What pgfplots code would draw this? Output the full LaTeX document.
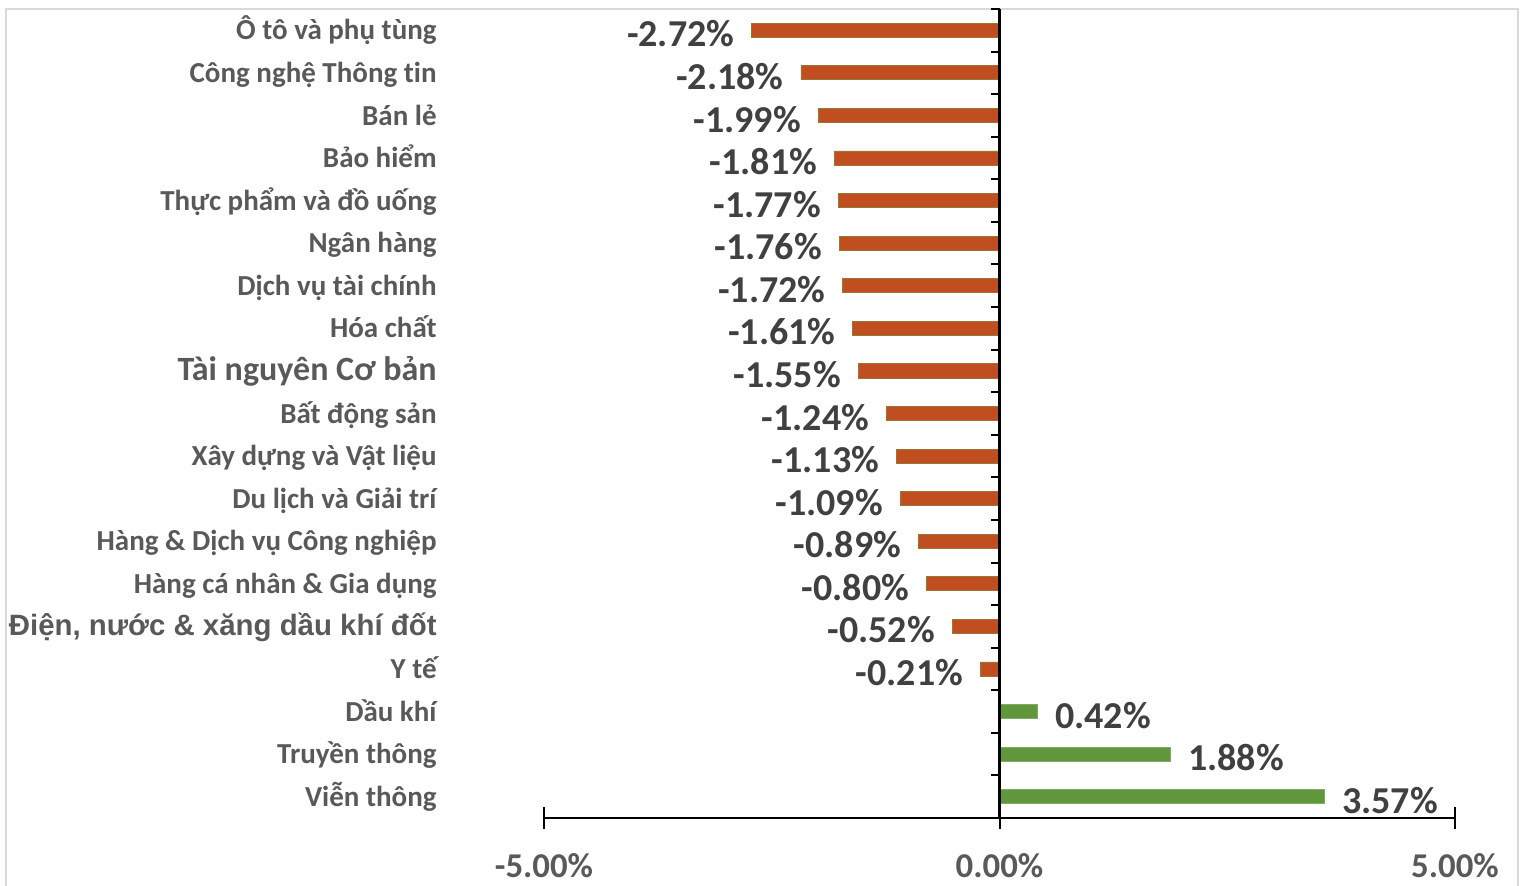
\documentclass[border=0pt]{standalone}
\usepackage{pgfplots}
\pgfplotsset{compat=1.18}
\usepackage{fontspec}
\setmainfont{Carlito}[Ligatures={NoCommon}]
\newfontfamily\arialb{Liberation Sans}
\definecolor{lblgray}{HTML}{595959}
\definecolor{valgray}{HTML}{404040}
\definecolor{negbar}{RGB}{193,78,32}
\definecolor{negedge}{RGB}{150,120,50}
\definecolor{posbar}{RGB}{96,150,60}
\definecolor{frame}{HTML}{D9D9D9}
\begin{document}
\begin{tikzpicture}
\path[use as bounding box] (-272pt,-34pt) rectangle (488pt,409pt);
\draw[frame, line width=1pt] (-269pt,-40pt) -- (-269pt,404.5pt) -- (487pt,404.5pt) -- (487pt,-40pt);
\begin{axis}[
  at={(0,0)}, anchor=south west,
  scale only axis, width=455.5pt, height=404.5pt,
  xmin=-5, xmax=5, ymin=-0.5, ymax=18.5,
  enlargelimits=false, clip=false,
  xbar, bar width=0.33, bar shift=0pt,
  axis x line*=bottom, axis y line*=left,
  x axis line style={line width=1pt, black},
  y axis line style={draw=none},
  xtick={-5,0,5}, tick align=center, major tick length=11pt,
  xtick style={line width=1pt, black},
  xticklabel={\pgfmathprintnumber[fixed,fixed zerofill,precision=2,assume math mode=true]{\tick}\%},
  xticklabel style={anchor=base, font=\fontsize{17.4}{20}\selectfont\bfseries, text=lblgray, yshift=-24.5pt},
  ytick={0,...,18}, ytick style={draw=none},
  yticklabels={Viễn thông, Truyền thông, Dầu khí, Y tế,
    {{\arialb\fontsize{14.7}{17}\selectfont\bfseries Điện, nước \& xăng dầu khí đốt}},
    Hàng cá nhân \& Gia dụng, Hàng \& Dịch vụ Công nghiệp, Du lịch và Giải trí,
    Xây dựng và Vật liệu, Bất động sản,
    {\fontsize{17}{20}\selectfont Tài nguyên Cơ bản},
    Hóa chất, Dịch vụ tài chính, Ngân hàng, Thực phẩm và đồ uống, Bảo hiểm,
    Bán lẻ, Công nghệ Thông tin, Ô tô và phụ tùng},
  yticklabel style={anchor=base east, inner sep=0pt, xshift=-48pt, yshift=-4.8pt,
    font=\fontsize{14.5}{17}\selectfont\bfseries, text=lblgray},
]
\addplot[fill=negbar, draw=negedge, line width=0.4pt,
  nodes near coords={\pgfmathprintnumber[fixed,fixed zerofill,precision=2,assume math mode=true]{\pgfplotspointmeta}\%},
  nodes near coords style={anchor=base east, inner sep=0pt, xshift=-8.5pt, yshift=-8.3pt,
    font=\fontsize{19}{22}\selectfont\bfseries, text=valgray}]
coordinates {
(-0.21,3) (-0.52,4) (-0.80,5) (-0.89,6) (-1.09,7) (-1.13,8) (-1.24,9)
(-1.55,10) (-1.61,11) (-1.72,12) (-1.76,13) (-1.77,14) (-1.81,15)
(-1.99,16) (-2.18,17) (-2.72,18)};
\addplot[fill=posbar, draw=posbar!80!white, line width=0.4pt,
  nodes near coords={\pgfmathprintnumber[fixed,fixed zerofill,precision=2,assume math mode=true]{\pgfplotspointmeta}\%},
  nodes near coords style={anchor=base west, inner sep=0pt, xshift=8.5pt, yshift=-8.3pt,
    font=\fontsize{19}{22}\selectfont\bfseries, text=valgray}]
coordinates {(3.57,0) (1.88,1) (0.42,2)};
\draw[line width=1.5pt] (axis cs:0,-0.5) -- (axis cs:0,18.5);
\pgfplotsinvokeforeach{-0.5,0.5,...,18.5}{
  \draw[line width=1pt] (axis cs:0,#1) -- ([xshift=-4.5pt]axis cs:0,#1);
}
\end{axis}
\end{tikzpicture}
\end{document}
